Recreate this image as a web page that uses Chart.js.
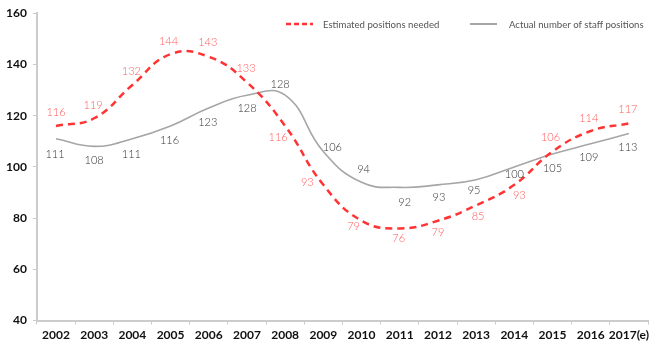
<!DOCTYPE html>
<html><head><meta charset="utf-8">
<script src="https://cdn.jsdelivr.net/npm/chart.js@4/dist/chart.umd.min.js"></script>
<style>html,body{margin:0;padding:0;background:#fff}#wrap{width:653px;height:347px}</style>
</head><body><div id="wrap"><canvas id="c"></canvas></div>
<script>
const years = ['2002','2003','2004','2005','2006','2007','2008','2009','2010','2011','2012','2013','2014','2015','2016','2017(e)'];
const estimatedNeeded = [116,119,132,144,143,133,116,93,79,76,79,85,93,106,114,117];
const actualStaff = [111,108,111,116,123,128,128,106,94,92,93,95,100,105,109,113];
const seriesNames = ['Estimated positions needed','Actual number of staff positions'];
const yTicks = [40,60,80,100,120,140,160];

// label offsets (dx, dy) relative to each point
const labelOffsets = [
  [[0,-13],[-1,-13],[-1,-13],[-2,-13],[-1,-14],[-1,-14],[-7,12],[-16,-2],[-8,6],[-1,10],[0,12],[2,11],[5,11],[-2,-14],[-2,-13],[-1,-14]],
  [[-1,16],[0,14],[-1,16],[-1,15],[-1,14],[0,13],[-5,-11],[9,-4],[2,-13],[5,15],[1,13],[-2,11],[0,8],[0,14],[-2,14],[-1,14]]
];
const labelColors = ['#ff5a5a','#333333'];

const labelPlugin = {
  id:'vlabels',
  afterDatasetsDraw(chart){
    const ctx = chart.ctx;
    ctx.save();
    ctx.font = '300 11px Lato';
    ctx.textAlign='center'; ctx.textBaseline='middle';
    chart.data.datasets.forEach((ds,di)=>{
      const meta = chart.getDatasetMeta(di);
      meta.data.forEach((pt,i)=>{
        const o = labelOffsets[di][i];
        ctx.fillStyle = labelColors[di];
        ctx.fillText(String(ds.data[i]), pt.x+o[0], pt.y+o[1]);
      });
    });
    ctx.restore();
  }
};
const legendPlugin = {
  id:'customLegend',
  afterDraw(chart){
    const ctx = chart.ctx;
    ctx.save();
    const items = [
      {x:286, tx:323, color:'#ff3333', dash:[5,3], w:2.5},
      {x:470, tx:509, color:'#a6a6a6', dash:[], w:2}
    ];
    ctx.font = '9.6px Lato';
    ctx.textBaseline='middle'; ctx.textAlign='left';
    items.forEach((it,i)=>{
      ctx.strokeStyle = it.color; ctx.lineWidth = it.w; ctx.setLineDash(it.dash);
      ctx.beginPath(); ctx.moveTo(it.x,24); ctx.lineTo(it.x+27,24); ctx.stroke();
      ctx.fillStyle='#555';
      ctx.fillText(seriesNames[i], it.tx, 24.5);
    });
    ctx.restore();
  }
};

new Chart(document.getElementById('c'),{
  type:'line',
  data:{labels:years,datasets:[
    {label:seriesNames[0],data:estimatedNeeded,borderColor:'#ff3333',borderWidth:2.5,borderDash:[7,5],tension:0.45,pointRadius:0,fill:false},
    {label:seriesNames[1],data:actualStaff,borderColor:'#a6a6a6',borderWidth:1.6,tension:0.45,pointRadius:0,fill:false}
  ]},
  options:{
    responsive:true,maintainAspectRatio:false,animation:false,
    layout:{padding:{top:6,right:5,left:0,bottom:2}},
    plugins:{legend:{display:false},tooltip:{enabled:false}},
    scales:{
      x:{offset:true,
        grid:{offset:true,drawOnChartArea:false,color:'#cccccc',tickLength:4,lineWidth:1},
        border:{color:'#cccccc',width:2},
        ticks:{color:'#111',font:{family:'Lato',weight:'bold',size:12},padding:3,maxRotation:0,autoSkip:false}},
      y:{min:40,max:160,
        afterBuildTicks(axis){axis.ticks = yTicks.map(v=>({value:v}));},
        grid:{drawOnChartArea:false,color:'#cccccc',tickLength:4},
        border:{color:'#cccccc',width:2},
        ticks:{color:'#111',font:{family:'Lato',weight:'bold',size:12},padding:6}}
    }
  },
  plugins:[labelPlugin,legendPlugin]
});
</script></body></html>
